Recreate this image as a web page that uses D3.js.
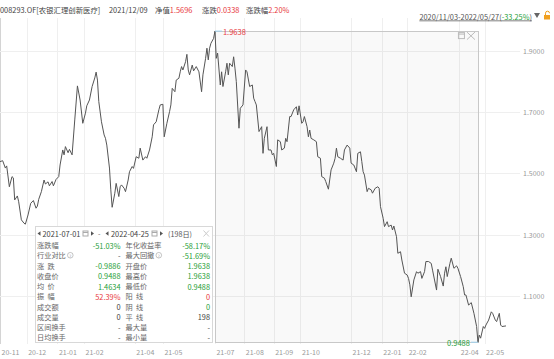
<!DOCTYPE html>
<html>
<head>
<meta charset="utf-8">
<script src="https://cdn.jsdelivr.net/npm/d3@7"></script>
<style>
  body { margin: 0; background: #fff; }
  svg { display: block; font-family: "Noto Sans CJK SC", "Noto Sans", sans-serif; }
</style>
</head>
<body>
<div id="chart"></div>
<script>
// trading-day index (0 = 2020-11-03) and net value
const dayIdx = [0,2,4,5,7,9,10,11,13,14,16,18,19,21,23,25,27,28,29,31,33,34,36,37,39,40,42,44,45,47,48,49,51,52,54,56,58,60,62,64,65,67,69,71,72,73,74,76,78,79,80,82,83,84,86,87,89,90,91,93,94,96,97,
  99,100,102,104,105,107,109,110,112,114,115,117,119,120,122,123,125,127,128,129,131,132,134,135,136,137,139,140,141,142,144,145,147,149,151,152,154,155,156,157,158,160,161,
  162,163,165,166,167,169,170,171,172,174,175,176,177,179,180,182,184,185,187,189,190,191,192,194,196,197,198,200,201,203,
  204,205,207,208,210,211,213,214,215,217,218,220,222,223,224,226,227,228,230,231,232,233,235,237,238,240,241,243,244,246,248,250,251,252,253,255,257,258,260,262,263,265,267,268,270,271,272,273,275,276,278,279,281,283,284,285,287,288,290,291,293,
  294,295,297,298,300,301,303,305,306,307,308,310,312,313,315,316,318,319,321,323,324,327,328,330,332,333,334,335,337,338,340,342,343,345,347,348,349,351,353,355,357,358,
  359,360,362,363,364,366,368,369,371,372,374,375,376,379];
const navVals = [1.538,1.541,1.517,1.524,1.456,1.489,1.485,1.413,1.426,1.407,1.348,1.337,1.334,1.364,1.402,1.411,1.386,1.393,1.415,1.440,1.478,1.465,1.472,1.459,1.473,1.459,1.480,1.489,1.527,1.576,1.560,1.587,1.567,1.578,1.560,1.674,1.785,1.739,1.663,1.696,1.720,1.739,1.783,1.811,1.830,1.804,1.734,1.668,1.625,1.614,1.592,1.517,1.446,1.389,1.435,1.467,1.424,1.456,1.462,1.451,1.440,1.478,1.505,
  1.522,1.516,1.554,1.549,1.582,1.543,1.554,1.549,1.576,1.619,1.658,1.668,1.707,1.723,1.725,1.619,1.663,1.701,1.723,1.777,1.766,1.804,1.810,1.831,1.848,1.837,1.864,1.888,1.837,1.821,1.853,1.834,1.848,1.831,1.766,1.821,1.875,1.908,1.870,1.908,1.924,1.940,1.9638,
  1.875,1.892,1.788,1.831,1.783,1.831,1.859,1.821,1.859,1.848,1.880,1.843,1.799,1.647,1.712,1.723,1.837,1.831,1.783,1.788,1.745,1.734,1.723,1.636,1.652,1.565,1.614,1.652,1.576,1.576,
  1.560,1.565,1.522,1.609,1.603,1.576,1.582,1.614,1.603,1.685,1.685,1.707,1.717,1.690,1.720,1.663,1.668,1.685,1.652,1.619,1.641,1.614,1.609,1.603,1.554,1.549,1.489,1.484,1.473,1.448,1.511,1.533,1.549,1.582,1.554,1.549,1.543,1.576,1.592,1.582,1.533,1.527,1.505,1.565,1.570,1.538,1.505,1.494,1.440,1.451,1.446,1.435,1.451,1.456,1.451,1.391,1.353,1.326,1.342,1.326,1.331,
  1.315,1.328,1.293,1.239,1.244,1.217,1.174,1.168,1.157,1.136,1.097,1.152,1.179,1.174,1.179,1.157,1.179,1.212,1.212,1.206,1.184,1.119,1.187,1.163,1.132,1.174,1.195,1.163,1.206,1.223,1.190,1.198,1.190,1.163,1.130,1.103,1.103,1.070,1.078,1.043,1.000,0.9488,
  0.972,0.962,1.000,0.994,1.005,1.021,1.048,1.043,1.021,1.016,1.043,1.005,1.000,1.002];

const tickIdx = [0,20,43,63,101,122,161,183,205,225,263,286,305,344,363];
const tickLabels = ["20-11","20-12","21-01","21-02","21-04","21-05","21-07","21-08","21-09","21-10","21-12","22-01","22-02","22-04","22-05"];
const yTicks = [1.1,1.3,1.5,1.7,1.9];

// selected interval 2021-07-01 .. 2022-04-25
const rangeStart = 161, rangeEnd = 358;
const rangeMax = 1.9638, rangeMin = 0.9488;

const statLeft = [
  ["涨跌幅","-51.03%","g"],["行业对比","-","n",true],["涨  跌","-0.9886","g"],["收盘价","0.9488","g"],["均  价","1.4634","g"],
  ["振  幅","52.39%","r"],["成交额","0","n"],["成交量","0","n"],["区间换手","-","n"],["日均换手","-","n"]];
const statRight = [
  ["年化收益率","-58.17%","g"],["最大回撤","-51.69%","g",true],["开盘价","1.9638","g"],["最高价","1.9638","g"],["最低价","0.9488","g"],
  ["阳  线","0","r"],["阴  线","0","g"],["平  线","198","n"],["最大量","-","n"],["最小量","-","n"]];

const RED = "#e8383d", GREEN = "#1f9e38", BLUE = "#9fd3f0";
const valColor = c => c === "g" ? GREEN : c === "r" ? RED : "#444";

const W = 554, H = 359;
const svg = d3.select("#chart").append("svg").attr("width", W).attr("height", H);

const x = d3.scaleLinear().domain([0, 389.5]).range([0, 520]);
const y = d3.scaleLinear().domain([0.943, 2.0]).range([344, 20]);

// grid
const grid = svg.append("g");
grid.selectAll(".vg").data(tickIdx).join("line")
  .attr("x1", d => Math.round(x(d)) + 0.5).attr("x2", d => Math.round(x(d)) + 0.5)
  .attr("y1", 18).attr("y2", 344)
  .attr("stroke", (d, i) => i === 0 ? "#d4d4d4" : "#efefef");
grid.selectAll(".hg").data(yTicks).join("line")
  .attr("x1", 0).attr("x2", 520)
  .attr("y1", d => Math.round(y(d)) + 0.5).attr("y2", d => Math.round(y(d)) + 0.5)
  .attr("stroke", "#efefef");

// y labels
svg.append("g").selectAll("text").data(yTicks).join("text")
  .attr("x", 523).attr("y", d => y(d))
  .attr("dominant-baseline", "central")
  .attr("font-size", 7).attr("fill", "#999")
  .text(d => d.toFixed(4));

// x labels
svg.append("g").selectAll("text").data(tickIdx).join("text")
  .attr("x", d => x(d) + 1.5).attr("y", 352)
  .attr("dominant-baseline", "central")
  .attr("font-size", 7).attr("fill", "#999")
  .text((d, i) => tickLabels[i]);

// selection box
const bx0 = x(rangeStart), bx1 = x(rangeEnd), by0 = y(rangeMax), by1 = y(rangeMin);
svg.append("rect")
  .attr("x", Math.round(bx0) + 0.5).attr("y", Math.round(by0) + 0.5)
  .attr("width", Math.round(bx1 - bx0)).attr("height", Math.round(by1 - by0))
  .attr("fill", "rgba(0,0,0,0.025)").attr("stroke", "#c8c8c8");
// box icons
const ic = svg.append("g").attr("stroke", "#bbb").attr("fill", "none");
ic.append("rect").attr("x", bx1 - 19.5).attr("y", by0 + 1.5).attr("width", 6).attr("height", 6);
ic.append("line").attr("x1", bx1 - 19.5).attr("x2", bx1 - 13.5).attr("y1", by0 + 3).attr("y2", by0 + 3);
ic.append("path").attr("d", `M${bx1 - 11},${by0 + 1}L${bx1 - 3},${by0 + 8.5}M${bx1 - 3},${by0 + 1}L${bx1 - 11},${by0 + 8.5}`);

// line
const pts = dayIdx.map((d, i) => ({ d, v: navVals[i] }));
svg.append("path").datum(pts)
  .attr("fill", "none").attr("stroke", "#555").attr("stroke-width", 1)
  .attr("stroke-linejoin", "round")
  .attr("d", d3.line().x(p => x(p.d)).y(p => y(p.v)));

// max / min markers
svg.append("line").attr("x1", bx0).attr("x2", bx0 + 7).attr("y1", by0).attr("y2", by0).attr("stroke", BLUE);
svg.append("text").attr("x", bx0 + 8).attr("y", by0).attr("dominant-baseline", "central")
  .attr("font-size", 7.5).attr("fill", RED).text(rangeMax.toFixed(4));
svg.append("line").attr("x1", bx1 - 7).attr("x2", bx1).attr("y1", by1).attr("y2", by1).attr("stroke", BLUE);
svg.append("text").attr("x", bx1 - 8).attr("y", by1).attr("dominant-baseline", "central")
  .attr("text-anchor", "end").attr("font-size", 7.5).attr("fill", GREEN).text(rangeMin.toFixed(4));

// header
const hdr = svg.append("text").attr("x", 0).attr("y", 8.5).attr("dominant-baseline", "central")
  .attr("font-size", 7.4).attr("fill", "#444");
hdr.append("tspan").text("008293.OF[农银汇理创新医疗]");
hdr.append("tspan").attr("x", 109).text("2021/12/09");
hdr.append("tspan").attr("x", 155).text("净值");
hdr.append("tspan").attr("fill", RED).text("1.5696");
hdr.append("tspan").attr("x", 202).text("涨跌");
hdr.append("tspan").attr("fill", RED).text("0.0338");
hdr.append("tspan").attr("x", 246).text("涨跌幅");
hdr.append("tspan").attr("fill", RED).text("2.20%");

// period text top right
const per = svg.append("text").attr("x", 532).attr("y", 15.5).attr("text-anchor", "end")
  .attr("dominant-baseline", "central").attr("font-size", 7.4).attr("fill", "#555")
  .attr("text-decoration", "underline");
per.append("tspan").text("2020/11/03-2022/05/27(");
per.append("tspan").attr("fill", GREEN).text("-33.25%");
per.append("tspan").text(")");
svg.append("path").attr("d", "M534,13L540,13L537,18Z").attr("fill", "#666");
svg.append("rect").attr("x", 544).attr("y", 15).attr("width", 6).attr("height", 4.5).attr("fill", "#f0a020");
svg.append("path").attr("d", "M545.5,15V13.2a2,2 0 0 1 4,0").attr("fill", "none").attr("stroke", "#f0a020").attr("stroke-width", 1);

// stats panel
const px0 = 35, py0 = 226, pw = 177, ph = 116;
const FS = 7.2;
const panel = svg.append("g");
panel.append("rect").attr("x", px0 + 0.5).attr("y", py0 + 0.5).attr("width", pw).attr("height", ph)
  .attr("fill", "#fff").attr("stroke", "#d8d8d8");

// panel header
const hy = 233.5;
const tri = (cx, dir) => `M${cx + dir * 1.5},${hy - 2.2}L${cx - dir * 1.5},${hy}L${cx + dir * 1.5},${hy + 2.2}Z`;
[[39, 1], [92.5, -1], [107, 1], [161.5, -1]].forEach(([cx, dir]) =>
  panel.append("path").attr("d", tri(cx, dir)).attr("fill", "#555"));
panel.append("text").attr("x", 42.5).attr("y", hy).attr("dominant-baseline", "central")
  .attr("font-size", 7.4).attr("fill", "#444").text("2021-07-01");
panel.append("text").attr("x", 111).attr("y", hy).attr("dominant-baseline", "central")
  .attr("font-size", 7.4).attr("fill", "#444").text("2022-04-25");
[82.5, 151.5].forEach(cx => {
  panel.append("rect").attr("x", cx + 0.5).attr("y", hy - 2.5).attr("width", 5).attr("height", 5)
    .attr("fill", "none").attr("stroke", "#aaa");
  panel.append("line").attr("x1", cx + 0.5).attr("x2", cx + 5.5).attr("y1", hy - 1).attr("y2", hy - 1).attr("stroke", "#aaa");
});
panel.append("text").attr("x", 98).attr("y", hy).attr("dominant-baseline", "central")
  .attr("font-size", FS).attr("fill", "#666").text("-");
panel.append("text").attr("x", 168).attr("y", hy).attr("dominant-baseline", "central")
  .attr("font-size", FS).attr("fill", "#555").text("(198日)");
panel.append("path").attr("d", `M203.5,${hy - 3}L209,${hy + 3}M209,${hy - 3}L203.5,${hy + 3}`)
  .attr("stroke", "#ccc").attr("fill", "none");

const rowY = i => 245 + i * 10.25;
function drawCol(rows, lx, vx) {
  rows.forEach((r, i) => {
    panel.append("text").attr("x", lx).attr("y", rowY(i)).attr("dominant-baseline", "central")
      .attr("font-size", FS).attr("fill", "#666").attr("xml:space", "preserve").text(r[0]);
    if (r[3]) {
      const cx = lx + r[0].length * FS + 4.5;
      panel.append("circle").attr("cx", cx).attr("cy", rowY(i)).attr("r", 2.8)
        .attr("fill", "none").attr("stroke", "#aaa").attr("stroke-width", 0.7);
      panel.append("text").attr("x", cx).attr("y", rowY(i) + 0.3).attr("text-anchor", "middle")
        .attr("dominant-baseline", "central").attr("font-size", 4.3).attr("fill", "#999").text("?");
    }
    panel.append("text").attr("x", vx).attr("y", rowY(i)).attr("text-anchor", "end")
      .attr("dominant-baseline", "central").attr("font-size", FS + 0.2).attr("fill", valColor(r[2])).text(r[1]);
  });
}
drawCol(statLeft, 37, 120.5);
drawCol(statRight, 125.5, 210);
</script>
</body>
</html>
